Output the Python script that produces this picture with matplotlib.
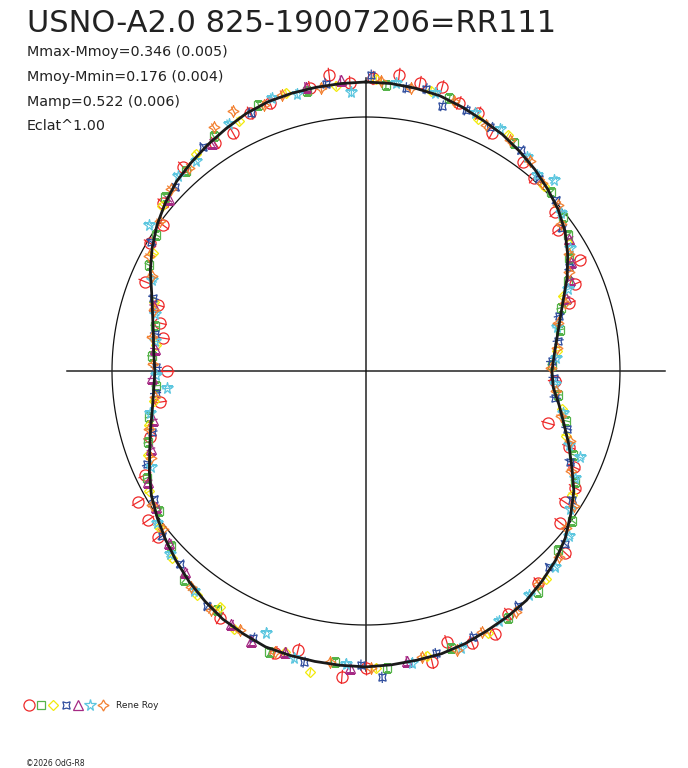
import numpy as np
import matplotlib
matplotlib.use("Agg")
import matplotlib.pyplot as plt
from matplotlib.lines import Line2D

W, H = 688, 768

title = "USNO-A2.0 825-19007206=RR111"
info_lines = ["Mmax-Mmoy=0.346 (0.005)",
              "Mmoy-Mmin=0.176 (0.004)",
              "Mamp=0.522 (0.006)",
              "Eclat^1.00"]
observer = "Rene Roy"
credit = "\u00a92026 OdG-R8"

# fitted curve: phase angle (deg) and relative brightness (mean = 1)
fit_deg = list(range(0, 360, 5))
fit_flux = [1.138, 1.136, 1.130, 1.122, 1.106, 1.089, 1.075, 1.055, 1.035, 1.012,
            0.988, 0.957, 0.917, 0.874, 0.827, 0.791, 0.764, 0.744, 0.732, 0.740,
            0.772, 0.807, 0.850, 0.894, 0.945, 0.984, 1.024, 1.055, 1.079, 1.102,
            1.116, 1.128, 1.142, 1.152, 1.156, 1.161, 1.165, 1.163, 1.161, 1.159,
            1.156, 1.142, 1.128, 1.106, 1.083, 1.057, 1.031, 1.004, 0.976, 0.941,
            0.906, 0.878, 0.854, 0.839, 0.831, 0.839, 0.850, 0.870, 0.898, 0.937,
            0.972, 1.004, 1.031, 1.055, 1.071, 1.087, 1.102, 1.118, 1.128, 1.132,
            1.134, 1.136]

# observations, one set per marker
red_deg = [1.4, 6.4, 10.6, 15, 19.1, 23.5, 27.9, 36.9, 41, 50, 53.7, 62.6, 67.4, 71.5,
           93, 106, 110.5, 114.8, 119.2, 123.4, 128, 132.4, 140.9, 149.7, 153.9, 158.7,
           163.4, 167.2, 180, 184.5, 193.7, 197.9, 210.6, 231.4, 235.6, 240.1, 244.8,
           253, 261.4, 270, 279.2, 283.1, 287.6, 292, 300.6, 305.7, 309.6, 318.1, 326.5,
           330.8, 335.8, 340.3, 348.8, 352.9, 356.8]
red_flux = [1.154, 1.173, 1.154, 1.157, 1.117, 1.107, 1.060, 1.029, 1.007, 0.972, 0.938,
            0.949, 0.890, 0.843, 0.745, 0.746, 0.853, 0.902, 0.943, 0.938, 0.970, 1.062,
            1.075, 1.108, 1.153, 1.149, 1.113, 1.175, 1.169, 1.208, 1.131, 1.166, 1.130,
            1.048, 1.039, 1.035, 0.962, 0.889, 0.820, 0.783, 0.810, 0.833, 0.860, 0.938,
            0.988, 0.984, 1.037, 1.079, 1.077, 1.073, 1.113, 1.121, 1.136, 1.175, 1.136]

green_deg = [4, 17, 33, 46, 52, 56, 61, 66, 72, 78, 88, 97, 104, 112, 118, 126, 133, 142,
             150, 163, 176, 186, 199, 212, 221, 228, 236, 244, 252, 258, 266, 274, 282,
             296, 303, 311, 318, 327, 338, 348]
green_flux = [1.128, 1.124, 1.070, 1.014, 0.983, 0.958, 0.915, 0.872, 0.806, 0.779, 0.733,
              0.760, 0.812, 0.879, 0.931, 1.004, 1.036, 1.102, 1.121, 1.140, 1.171, 1.152,
              1.168, 1.110, 1.090, 1.032, 0.985, 0.960, 0.903, 0.872, 0.829, 0.846, 0.850,
              0.952, 0.985, 1.047, 1.058, 1.101, 1.131, 1.126]

yellow_deg = [2, 13, 24, 31, 44, 58, 69, 84, 101, 108, 121, 139, 155, 168, 178, 190.5, 196,
              207, 211.7, 217, 226, 233, 241, 249, 256, 262, 277, 288, 299, 309, 322, 333,
              344, 354]
yellow_flux = [1.149, 1.132, 1.086, 1.082, 1.010, 0.941, 0.829, 0.755, 0.786, 0.826, 0.946,
               1.083, 1.140, 1.146, 1.170, 1.204, 1.150, 1.142, 1.093, 1.104, 1.061, 1.022,
               0.978, 0.920, 0.882, 0.842, 0.834, 0.878, 0.958, 1.034, 1.085, 1.105, 1.139,
               1.130]

blue_deg = [1, 8, 12, 16, 21, 27, 35, 42, 48, 54, 63, 74, 81, 87, 92, 98, 106, 114, 122,
            131, 137, 147, 158, 166, 177, 181, 192, 203, 214, 224, 231, 239, 247, 254, 264,
            271, 280, 289, 301, 314, 324, 336, 352]
blue_flux = [1.165, 1.126, 1.136, 1.086, 1.100, 1.078, 1.062, 1.018, 1.006, 0.955, 0.899,
             0.791, 0.766, 0.732, 0.741, 0.752, 0.822, 0.878, 0.955, 1.038, 1.056, 1.101,
             1.128, 1.146, 1.208, 1.158, 1.172, 1.141, 1.118, 1.054, 1.033, 0.976, 0.936,
             0.876, 0.833, 0.826, 0.842, 0.885, 0.986, 1.043, 1.091, 1.113, 1.142]

purple_deg = [57, 62, 66, 70, 172, 183, 196, 203, 208, 222, 229, 237, 243, 250, 257, 268,
              276, 287, 311, 326, 348, 355]
purple_flux = [0.955, 0.916, 0.880, 0.838, 1.151, 1.170, 1.151, 1.155, 1.128, 1.066, 1.030,
               0.986, 0.962, 0.901, 0.860, 0.842, 0.836, 0.874, 1.030, 1.083, 1.145, 1.150]

cyan_deg = [6, 14, 23, 29, 37, 41, 44.5, 51, 59, 68, 77, 86, 94, 102, 110, 112, 117, 124,
            129, 136, 144, 152, 161, 171, 184, 194, 201, 218, 227, 234, 246, 259, 265, 269,
            278, 285, 293, 304, 316, 321, 331, 341, 346, 357]
cyan_flux = [1.142, 1.130, 1.103, 1.090, 1.056, 1.024, 1.055, 0.990, 0.938, 0.858, 0.773,
             0.750, 0.746, 0.794, 0.849, 0.908, 0.925, 0.970, 1.030, 1.072, 1.092, 1.114,
             1.152, 1.164, 1.156, 1.166, 1.104, 1.098, 1.055, 1.016, 0.928, 0.866, 0.786,
             0.826, 0.838, 0.862, 0.914, 1.030, 1.068, 1.065, 1.112, 1.136, 1.124, 1.100]

orange_deg = [3, 9, 18, 26, 32, 38, 43, 49, 53, 60, 64, 71, 76, 83, 89, 96, 103, 109, 116,
              123, 128, 134, 141, 148, 156, 162, 169, 179, 187, 198, 206, 213, 219, 232, 238,
              248, 255, 263, 272, 279, 286, 294, 298, 306, 313, 319, 328, 333, 339, 343, 351]
orange_flux = [1.144, 1.128, 1.118, 1.079, 1.073, 1.048, 1.014, 0.999, 0.962, 0.925, 0.890,
               0.828, 0.781, 0.758, 0.729, 0.753, 0.787, 0.848, 0.898, 0.976, 1.001, 1.056,
               1.078, 1.117, 1.124, 1.154, 1.148, 1.171, 1.156, 1.163, 1.133, 1.121, 1.096,
               1.013, 0.994, 0.914, 0.884, 0.838, 0.840, 0.855, 0.869, 0.922, 0.966, 1.002,
               1.052, 1.061, 1.131, 1.150, 1.120, 1.137, 1.128]

# marker styles per observer set
series = [
    (red_deg, red_flux, "o", "#ee2a2a", 8.0, 0.028),
    (green_deg, green_flux, "s", "#55b34a", 6.0, 0.018),
    (yellow_deg, yellow_flux, "D", "#f2ea0a", 5.2, 0.016),
    (blue_deg, blue_flux, (4, 1, 45), "#2f4d9e", 7.5, 0.022),
    (purple_deg, purple_flux, "^", "#a52a84", 6.5, 0.018),
    (cyan_deg, cyan_flux, "*", "#5cc6df", 8.5, 0.020),
    (orange_deg, orange_flux, (4, 1, 0), "#f28030", 8.0, 0.018),
]

fig = plt.figure(figsize=(W / 100, H / 100), dpi=100)
fig.patch.set_facecolor("white")

cx, cy, scale, rmax = 366, 371, 254, 1.25
half = rmax * scale
ax = fig.add_axes([(cx - half) / W, (H - cy - half) / H, 2 * half / W, 2 * half / H],
                  projection="polar")
ax.set_theta_zero_location("N")
ax.set_theta_direction(-1)
ax.set_ylim(0, rmax)
ax.set_axis_off()

# reference circle (mean brightness) and cross
t = np.linspace(0, 2 * np.pi, 500)
ax.plot(t, np.ones_like(t), color="#111111", lw=0.9, zorder=2)
for ang, length in [(0, 1.155), (np.pi / 2, 1.177), (np.pi, 1.18), (1.5 * np.pi, 1.177)]:
    ax.plot([ang, ang], [0, length], color="#222222", lw=1.1, zorder=2)

for deg, flux, mk, col, ms, err in series:
    th = np.radians(deg)
    ax.errorbar(th, flux, yerr=err, fmt="none", ecolor=col, elinewidth=0.9,
                capsize=0, zorder=3)
    ax.plot(th, flux, linestyle="none", marker=mk, markersize=ms, markerfacecolor="none",
            markeredgecolor=col, markeredgewidth=0.9, zorder=3)

fit_th = np.radians(np.append(fit_deg, 360))
ax.plot(fit_th, np.append(fit_flux, fit_flux[0]), color="#1a1a1a", lw=2.0, zorder=4)


def fx(x):
    return x / W


def fy(y):
    return 1 - y / H


fig.text(fx(27), fy(32), title, fontsize=22, color="#222222", va="baseline")
for i, line in enumerate(info_lines):
    fig.text(fx(27), fy(56 + 25 * i - (1 if i == 3 else 0)), line, fontsize=10.3,
             color="#222222", va="baseline")

# observer legend row
legend_x = [29, 41, 53, 66, 78, 90, 103]
for x, (_, _, mk, col, ms, _) in zip(legend_x, series):
    fig.add_artist(Line2D([fx(x)], [fy(705)], transform=fig.transFigure, marker=mk,
                          markersize=ms, markerfacecolor="none", markeredgecolor=col,
                          markeredgewidth=0.9, linestyle="none"))
fig.text(fx(116), fy(705), observer, fontsize=6.5, color="#222222", va="center")
fig.text(fx(26), fy(763), credit, fontsize=5.5, color="#222222", va="center")

fig.savefig("out.png", dpi=100, facecolor="white")
